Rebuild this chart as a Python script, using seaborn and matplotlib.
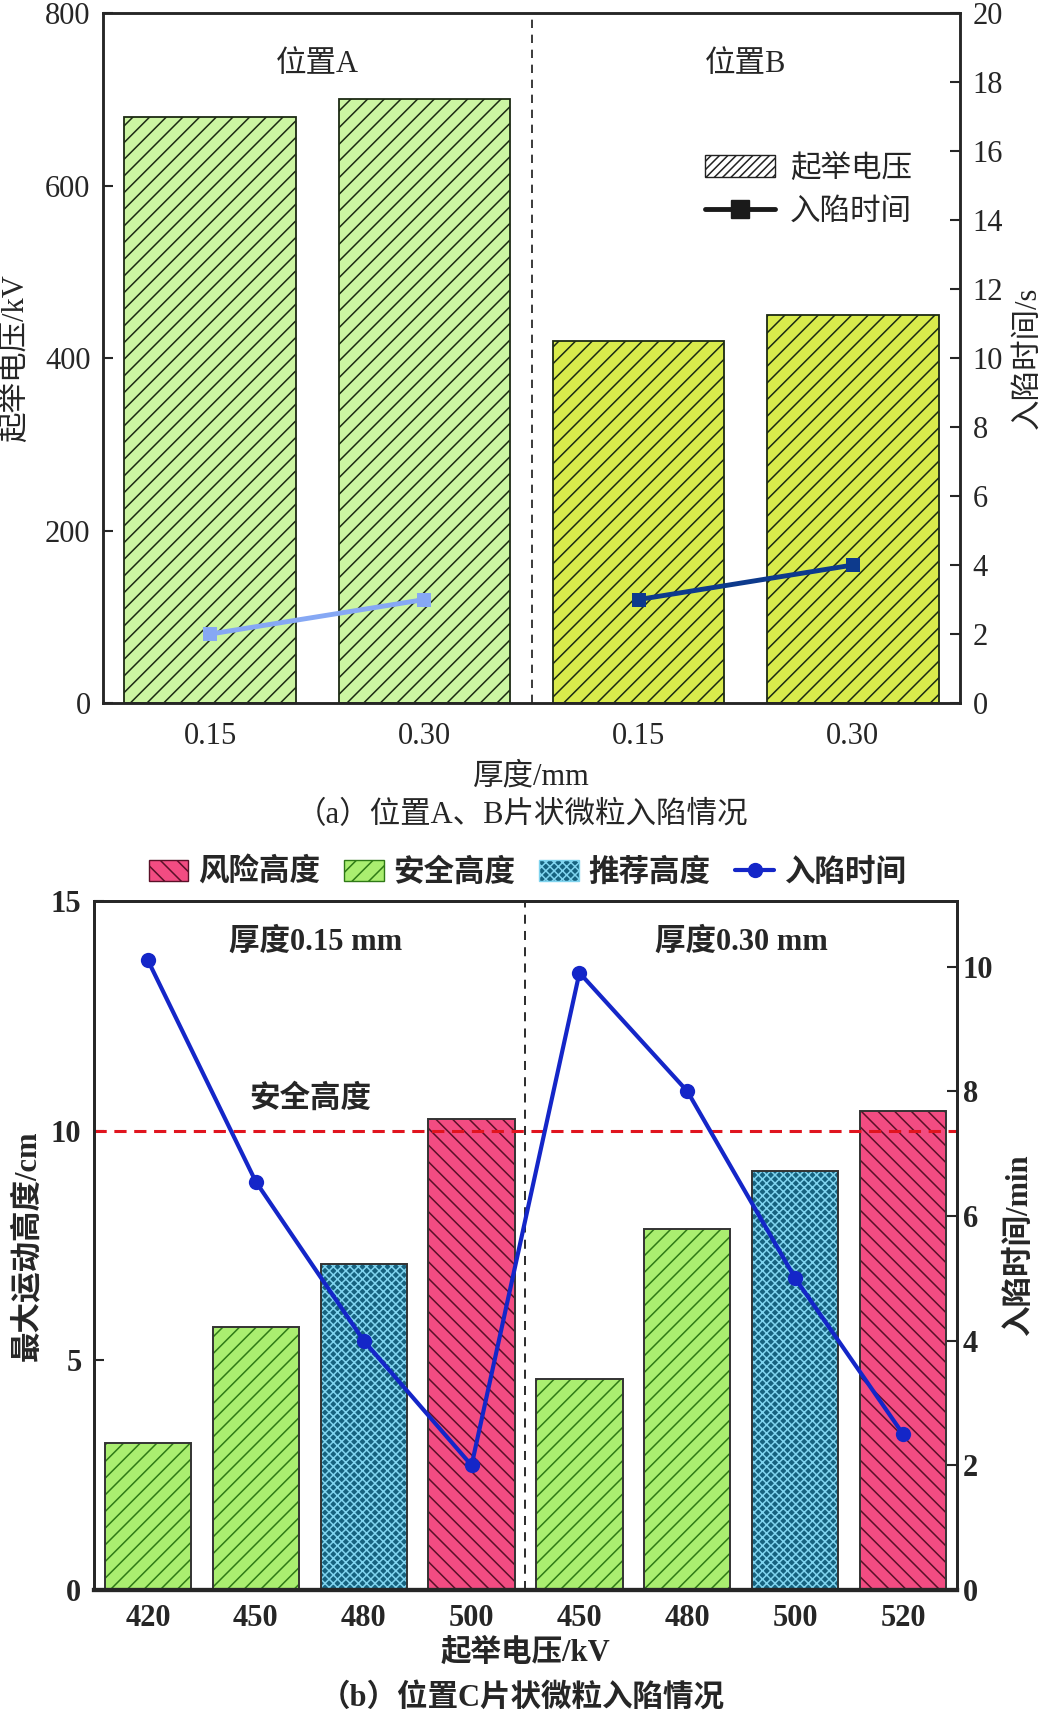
import pandas as pd
import matplotlib.pyplot as plt
import seaborn as sns
from matplotlib.patches import Patch, Rectangle
from matplotlib.lines import Line2D

# (a) positions A and B
thickness_ab = ["0.15", "0.30", "0.15", "0.30"]
site_ab = ["位置A", "位置A", "位置B", "位置B"]
lift_voltage_ab = [679, 700, 420, 450]
trap_time_ab = [2, 3, 3, 4]

# (b) position C
voltage_c = ["420", "450", "480", "500", "450", "480", "500", "520"]
thickness_c = ["0.15", "0.15", "0.15", "0.15", "0.30", "0.30", "0.30", "0.30"]
height_c = [3.2, 5.72, 7.1, 10.25, 4.6, 7.85, 9.13, 10.43]
level_c = ["安全高度", "安全高度", "推荐高度", "风险高度",
           "安全高度", "安全高度", "推荐高度", "风险高度"]
trap_time_c = [10.1, 6.55, 4.0, 2.0, 9.9, 8.0, 5.0, 2.5]
safe_height = 10

sns.set_theme(style="ticks")
plt.rcParams["font.family"] = ["Liberation Serif", "Noto Sans CJK SC"]
plt.rcParams["hatch.linewidth"] = 1.1

FS = 22

fig = plt.figure(figsize=(10.44, 17.16), dpi=100)

# ---------------- (a) ----------------
ax1 = fig.add_axes([0.0987, 0.5903, 0.8208, 0.4021])
df_a = pd.DataFrame({"idx": range(4), "volt": lift_voltage_ab,
                     "time": trap_time_ab, "site": site_ab})
sns.barplot(data=df_a, x="idx", y="volt", ax=ax1, width=0.8, color="w",
            linewidth=1.3, edgecolor="#1c2a14")
site_color = {"位置A": "#ccf5a2", "位置B": "#d9eb4c"}
for p, s in zip(ax1.patches, site_ab):
    p.set_facecolor(site_color[s])
    p.set_hatch("//")
ax1.axvline(1.5, color="k", lw=1.2, ls=(0, (5, 4)))
ax1.set_ylim(0, 800)
ax1.set_yticks([0, 200, 400, 600, 800])
ax1.set_xticks(range(4))
ax1.set_xticklabels(thickness_ab)
ax1.set_xlabel("厚度/mm", fontsize=FS, labelpad=8)
ax1.set_ylabel("起举电压/kV", fontsize=FS)
ax1.yaxis.set_label_coords(-0.085, 0.5)
ax1.tick_params(direction="in", length=7, width=1.5, labelsize=FS, pad=9)
ax1.tick_params(axis="x", pad=14)
for sp in ax1.spines.values():
    sp.set_linewidth(1.8)

ax1r = ax1.twinx()
sns.lineplot(data=df_a, x="idx", y="time", hue="site", ax=ax1r,
             palette={"位置A": "#86a8f4", "位置B": "#0d3a8c"},
             marker="s", markersize=10, markeredgewidth=0, linewidth=3.5,
             legend=False)
ax1r.set_ylim(0, 20)
ax1r.set_yticks(range(0, 21, 2))
ax1r.set_xlim(-0.5, 3.5)
ax1r.set_ylabel("入陷时间/s", fontsize=FS)
ax1r.yaxis.set_label_coords(1.062, 0.5)
ax1r.tick_params(direction="in", length=7, width=1.5, labelsize=FS, pad=9)
for sp in ax1r.spines.values():
    sp.set_linewidth(1.8)

ax1.text(0.5, 740, "位置A", ha="center", va="center", fontsize=FS)
ax1.text(2.5, 740, "位置B", ha="center", va="center", fontsize=FS)
handles_a = [Patch(facecolor="w", edgecolor="#222222", hatch="////", lw=1.0),
             Line2D([], [], color="k", lw=3.5, marker="s", markersize=13)]
ax1r.legend(handles_a, ["起举电压", "入陷时间"], loc="upper left",
            bbox_to_anchor=(0.67, 0.835), frameon=False, fontsize=FS,
            handlelength=2.3, handletextpad=0.5, labelspacing=0.45)
fig.text(0.5, 1 - 816 / 1716, "（a）位置A、B片状微粒入陷情况", ha="center",
         va="center", fontsize=FS)

# ---------------- (b) ----------------
ax2 = fig.add_axes([0.090, 0.0734, 0.8267, 0.4015])
df_c = pd.DataFrame({"idx": range(8), "height": height_c,
                     "time": trap_time_c, "level": level_c})
sns.barplot(data=df_c, x="idx", y="height", ax=ax2, width=0.8, color="w",
            linewidth=0)
level_style = {
    "风险高度": dict(face="#f24c82", hatch="\\\\", hc="#5a1028"),
    "安全高度": dict(face="#aaee70", hatch="//", hc="#2f7a16"),
    "推荐高度": dict(face="#16627f", hatch="xxxx", hc="#80d4ef"),
}
bars = list(ax2.patches)
for p, lv in zip(bars, level_c):
    st = level_style[lv]
    p.set_facecolor(st["face"])
    p.set_edgecolor(st["hc"])
    p.set_linewidth(0)
    p.set_hatch(st["hatch"])
    ax2.add_patch(Rectangle(p.get_xy(), p.get_width(), p.get_height(),
                            fill=False, edgecolor="#333333", lw=1.4))
ax2.axvline(3.5, color="k", lw=1.3, ls=(0, (5, 4)))
ax2.axhline(safe_height, color="#e0141e", lw=2.2, ls=(0, (4, 2.5)))
ax2.set_ylim(0, 15)
ax2.set_yticks([0, 5, 10, 15])
ax2.set_xticks(range(8))
ax2.set_xticklabels(voltage_c)
ax2.set_xlabel("起举电压/kV", fontsize=FS, fontweight="bold", labelpad=4)
ax2.set_ylabel("最大运动高度/cm", fontsize=FS, fontweight="bold")
ax2.yaxis.set_label_coords(-0.06, 0.5)
ax2.tick_params(direction="in", length=7, width=1.5, labelsize=FS, pad=9)
ax2.tick_params(axis="x", pad=10)
for lab in ax2.get_xticklabels() + ax2.get_yticklabels():
    lab.set_fontweight("bold")
for sp in ax2.spines.values():
    sp.set_linewidth(2.0)
ax2.spines["bottom"].set_linewidth(3.0)

ax2r = ax2.twinx()
sns.lineplot(data=df_c, x="idx", y="time", ax=ax2r, color="#1426c8",
             marker="o", markersize=11, markeredgewidth=0, linewidth=3.0)
ax2r.set_ylim(0, 11.05)
ax2r.set_yticks(range(0, 11, 2))
ax2r.set_xlim(-0.5, 7.5)
ax2r.set_ylabel("入陷时间/min", fontsize=FS, fontweight="bold")
ax2r.yaxis.set_label_coords(1.055, 0.5)
ax2r.tick_params(direction="in", length=7, width=1.5, labelsize=FS, pad=4)
for lab in ax2r.get_yticklabels():
    lab.set_fontweight("bold")
for sp in ax2r.spines.values():
    sp.set_linewidth(2.0)
ax2r.spines["bottom"].set_linewidth(3.0)

ax2.text(1.55, 14.1, "厚度0.15 mm", ha="center", va="center", fontsize=FS,
         fontweight="bold")
ax2.text(5.5, 14.1, "厚度0.30 mm", ha="center", va="center", fontsize=FS,
         fontweight="bold")
ax2.text(1.5, 10.7, "安全高度", ha="center", va="center", fontsize=FS,
         fontweight="bold")

legend_order = ["风险高度", "安全高度", "推荐高度"]
handles_c = [Patch(facecolor=level_style[k]["face"], hatch=level_style[k]["hatch"],
                   edgecolor=level_style[k]["hc"], lw=1.0) for k in legend_order]
handles_c.append(Line2D([], [], color="#1426c8", lw=3, marker="o", markersize=10))
fig.legend(handles_c, legend_order + ["入陷时间"], loc="center",
           bbox_to_anchor=(0.505, 1 - 873 / 1716), ncol=4, frameon=False,
           prop={"size": FS, "weight": "bold"}, handlelength=1.3,
           handletextpad=0.3, columnspacing=0.8)
fig.text(0.5, 1 - 1698 / 1716, "（b）位置C片状微粒入陷情况", ha="center",
         va="center", fontsize=FS, fontweight="bold")

fig.savefig("out.png", dpi=100)
